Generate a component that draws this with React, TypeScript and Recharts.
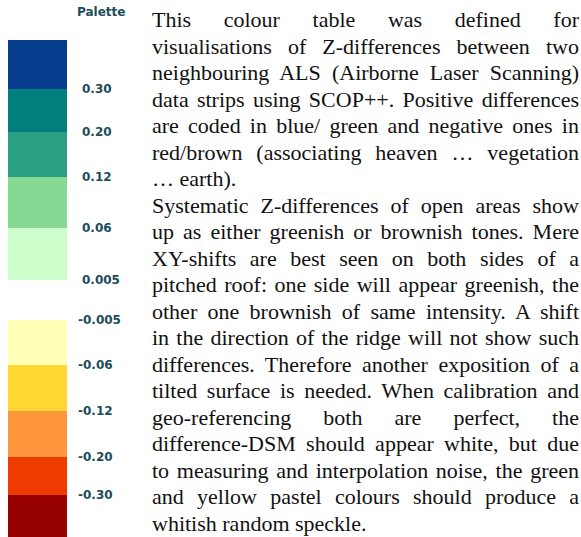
// Colour table for Z-difference maps (ALS strip adjustment), drawn as a stacked bar
import { BarChart, Bar, XAxis, YAxis } from "recharts"

// colour classes, top (positive) to bottom (negative)
const classNames = [
  "gt030",
  "020to030",
  "012to020",
  "006to012",
  "0005to006",
  "neutral",
  "m006tom0005",
  "m012tom006",
  "m020tom012",
  "m030tom020",
  "ltm030",
]
const classColors = [
  "#053c8e",
  "#007f7e",
  "#2a9f82",
  "#86d992",
  "#ccffcc",
  "#ffffff",
  "#ffffb6",
  "#ffd733",
  "#ff963d",
  "#ef3a00",
  "#960000",
]
// relative height of each class in the legend column
const classSpan = [49, 43, 45, 51, 52, 40, 45, 46, 46, 38, 42]
// threshold labels, one per boundary between classes
const boundaryLabels = ["0.30", "0.20", "0.12", "0.06", "0.005", "-0.005", "-0.06", "-0.12", "-0.20", "-0.30"]

const textLines = [
  "This colour table was defined for",
  "visualisations of Z-differences between two",
  "neighbouring ALS (Airborne Laser Scanning)",
  "data strips using SCOP++. Positive differences",
  "are coded in blue/ green and negative ones in",
  "red/brown (associating heaven \u2026 vegetation",
  "\u2026 earth).",
  "Systematic Z-differences of open areas show",
  "up as either greenish or brownish tones. Mere",
  "XY-shifts are best seen on both sides of a",
  "pitched roof: one side will appear greenish, the",
  "other one brownish of same intensity. A shift",
  "in the direction of the ridge will not show such",
  "differences. Therefore another exposition of a",
  "tilted surface is needed. When calibration and",
  "geo-referencing both are perfect, the",
  "difference-DSM should appear white, but due",
  "to measuring and interpolation noise, the green",
  "and yellow pastel colours should produce a",
  "whitish random speckle.",
]
// lines that end a paragraph are not justified
const paragraphEnds = [6, 19]

const row: Record<string, string | number> = { name: "palette" }
classNames.forEach((k, i) => {
  row[k] = classSpan[i]
})
const data = [row]

const total = classSpan.reduce((a, b) => a + b, 0)
const boundaries: number[] = []
classSpan.slice(0, -1).reduce((acc, v) => {
  boundaries.push(acc + v)
  return acc + v
}, 0)

const labelColor = "#1b4c59"

function BoundaryTick(props: any) {
  const { x, y, payload } = props
  const label = boundaryLabels[boundaries.indexOf(payload.value)] ?? ""
  const neg = label.startsWith("-")
  return (
    <text
      x={x + (neg ? 11 : 15)}
      y={y}
      dy="0.36em"
      textAnchor="start"
      fontFamily="DejaVu Sans"
      fontWeight="bold"
      fontSize={12}
      fill={labelColor}
    >
      {label}
    </text>
  )
}

export default function App() {
  return (
    <div
      style={{
        position: "absolute",
        left: 0,
        top: 0,
        width: 581,
        height: 537,
        background: "#fff",
        overflow: "hidden",
      }}
    >
      <div
        style={{
          position: "absolute",
          left: 77,
          top: 5,
          fontFamily: "DejaVu Sans",
          fontWeight: "bold",
          fontSize: 12,
          color: labelColor,
        }}
      >
        Palette
      </div>
      <div style={{ position: "absolute", left: 0, top: 0 }}>
        <BarChart
          width={140}
          height={537}
          data={data}
          margin={{ top: 40, right: 0, left: 8, bottom: 0 }}
          barCategoryGap={0}
        >
          <XAxis dataKey="name" hide />
          <YAxis
            orientation="right"
            type="number"
            reversed
            domain={[0, total]}
            ticks={boundaries}
            interval={0}
            tick={<BoundaryTick />}
            tickSize={0}
            tickMargin={0}
            axisLine={false}
            tickLine={false}
            width={73}
          />
          {classNames.map((k, i) => (
            <Bar key={k} dataKey={k} stackId="p" fill={classColors[i]} isAnimationActive={false} />
          ))}
        </BarChart>
      </div>
      <div
        style={{
          position: "absolute",
          left: 152,
          top: 7,
          width: 427,
          fontFamily: "'Liberation Serif', 'Times New Roman', serif",
          fontSize: 22,
          lineHeight: "26.5px",
          color: "#111",
        }}
      >
        {textLines.map((line, i) => (
          <div
            key={i}
            style={{
              whiteSpace: "nowrap",
              textAlign: paragraphEnds.includes(i) ? "left" : "justify",
              textAlignLast: paragraphEnds.includes(i) ? "left" : "justify",
            }}
          >
            {line}
          </div>
        ))}
      </div>
    </div>
  )
}
